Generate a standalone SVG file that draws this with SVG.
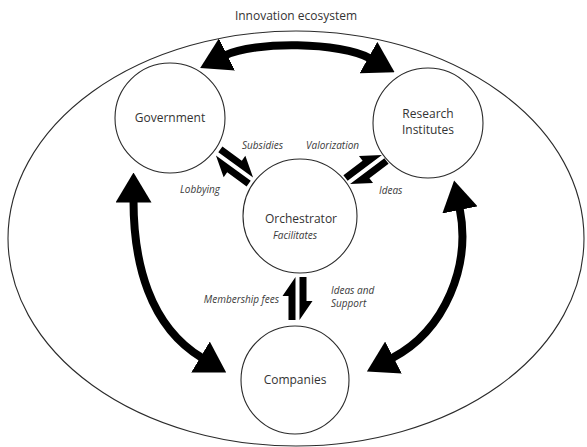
<svg xmlns="http://www.w3.org/2000/svg" xmlns:xlink="http://www.w3.org/1999/xlink" width="587" height="447" viewBox="0 0 587 447">
  <style>
    .node { fill: #ffffff; stroke: #2b2b2b; stroke-width: 1.1; }
    .frame { fill: none; stroke: #2b2b2b; stroke-width: 1.1; }
    .title { font-family: "Open Sans", "Liberation Sans", sans-serif; font-size: 12px; fill: #333333; text-anchor: middle; }
    .label { font-family: "Open Sans", "Liberation Sans", sans-serif; font-size: 10px; font-style: italic; fill: #3a3a3a; }
    .flow { fill: none; stroke: #000000; stroke-width: 8; marker-start: url(#bigHead); marker-end: url(#bigHead); }
    .harpoon { fill: #000000; }
  </style>
  <defs>
    <marker id="bigHead" markerUnits="userSpaceOnUse" viewBox="0 -18 30 36" markerWidth="30" markerHeight="36" refX="2" refY="0" orient="auto-start-reverse">
      <path d="M0,-18 L30,0 L0,18 Z" fill="#000000"/>
    </marker>
    <!-- two opposite half-headed arrows, axis along x, centred on the origin -->
    <g id="harpoonPair">
      <polygon class="harpoon" points="-21.5,-2 21.5,-2 2.5,-15 2.5,-9 -21.5,-9"/>
      <polygon class="harpoon" points="21.5,2 -21.5,2 -2.5,15 -2.5,9 21.5,9"/>
    </g>
  </defs>

  <rect width="587" height="447" fill="#ffffff"/>

  <!-- ecosystem boundary -->
  <g id="ecosystem">
    <ellipse class="frame" cx="296" cy="238.5" rx="288" ry="207.5"/>
    <text class="title" x="296" y="20">Innovation ecosystem</text>
  </g>

  <!-- connectors -->
  <g id="connectors">
    <path class="flow" d="M225.2,55.4 C254,41 341,42 370.2,58.5"/>
    <path class="flow" d="M133.5,200.5 C133.5,262 149,326 202.2,358"/>
    <path class="flow" d="M459.6,208 C471,265 446,330 391.7,358.4"/>

    <use xlink:href="#harpoonPair" transform="translate(234.5,166.5) rotate(36)"/>
    <use xlink:href="#harpoonPair" transform="translate(366,169.5) rotate(-37)"/>
    <use xlink:href="#harpoonPair" transform="translate(297.5,298.5) rotate(-90)"/>

    <text class="label" x="242" y="149">Subsidies</text>
    <text class="label" x="306" y="149">Valorization</text>
    <text class="label" x="180" y="193">Lobbying</text>
    <text class="label" x="379" y="194">Ideas</text>
    <text class="label" x="279" y="303" text-anchor="end">Membership fees</text>
    <text class="label" x="331" y="294">Ideas and</text>
    <text class="label" x="331" y="307">Support</text>
  </g>

  <!-- actors -->
  <g id="government">
    <circle class="node" cx="170" cy="118" r="55"/>
    <text class="title" x="170" y="122">Government</text>
  </g>
  <g id="research-institutes">
    <circle class="node" cx="428" cy="123" r="55"/>
    <text class="title" x="428" y="118">Research</text>
    <text class="title" x="428" y="134">Institutes</text>
  </g>
  <g id="orchestrator">
    <circle class="node" cx="300" cy="216" r="57"/>
    <text class="title" x="301" y="223">Orchestrator</text>
    <text class="label" x="295" y="239" text-anchor="middle">Facilitates</text>
  </g>
  <g id="companies">
    <circle class="node" cx="295" cy="380" r="54"/>
    <text class="title" x="295" y="384">Companies</text>
  </g>
</svg>
